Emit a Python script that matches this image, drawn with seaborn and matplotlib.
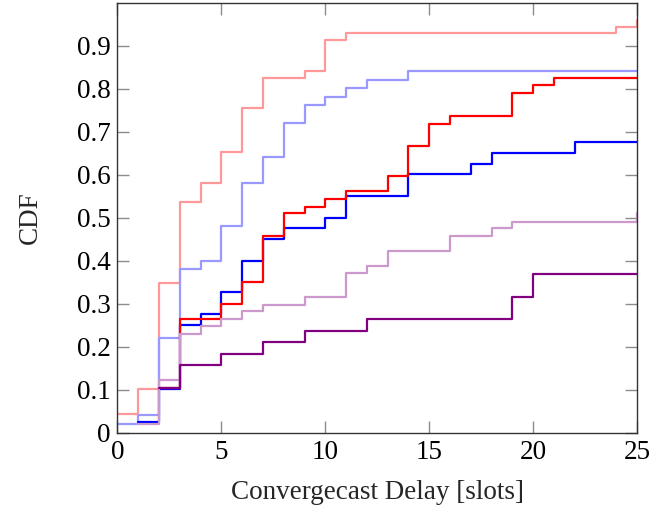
import numpy as np
import pandas as pd
import seaborn as sns
import matplotlib
matplotlib.use("Agg")
import matplotlib.pyplot as plt

# Empirical CDF values at each integer delay (slots); series start at different slots
x_pink = list(range(0, 26))
y_pink = [0.044, 0.101, 0.349, 0.537, 0.581, 0.653, 0.755, 0.826, 0.826, 0.842,
          0.913, 0.929, 0.929, 0.929, 0.929, 0.929, 0.929, 0.929, 0.929, 0.929,
          0.929, 0.929, 0.929, 0.929, 0.943, 0.960]

x_lightblue = list(range(0, 26))
y_lightblue = [0.020, 0.040, 0.220, 0.380, 0.400, 0.481, 0.581, 0.642, 0.721, 0.761,
               0.781, 0.801, 0.821, 0.821, 0.841, 0.841, 0.841, 0.841, 0.841, 0.841,
               0.841, 0.841, 0.841, 0.841, 0.841, 0.841]

x_blue = list(range(1, 26))
y_blue = [0.025, 0.101, 0.250, 0.275, 0.326, 0.400, 0.450, 0.475, 0.475,
          0.500, 0.550, 0.550, 0.550, 0.602, 0.602, 0.602, 0.626, 0.651, 0.651,
          0.651, 0.651, 0.676, 0.676, 0.676, 0.676]

x_red = list(range(2, 26))
y_red = [0.103, 0.264, 0.264, 0.300, 0.351, 0.457, 0.510, 0.526,
         0.543, 0.561, 0.561, 0.597, 0.667, 0.719, 0.737, 0.737, 0.737, 0.789,
         0.809, 0.826, 0.826, 0.826, 0.826, 0.826]

x_plum = list(range(1, 26))
y_plum = [0.020, 0.123, 0.229, 0.247, 0.264, 0.282, 0.298, 0.298, 0.316,
          0.316, 0.371, 0.388, 0.422, 0.422, 0.422, 0.457, 0.457, 0.475, 0.491,
          0.491, 0.491, 0.491, 0.491, 0.491, 0.510]

x_purple = list(range(2, 26))
y_purple = [0.103, 0.157, 0.157, 0.183, 0.183, 0.211, 0.211, 0.237,
            0.237, 0.237, 0.264, 0.264, 0.264, 0.264, 0.264, 0.264, 0.264, 0.316,
            0.369, 0.369, 0.369, 0.369, 0.369, 0.369]

series = [
    ("pink", x_pink, y_pink, "#FF9999"),
    ("lightblue", x_lightblue, y_lightblue, "#9999FF"),
    ("blue", x_blue, y_blue, "#0000FF"),
    ("red", x_red, y_red, "#FF0000"),
    ("plum", x_plum, y_plum, "#CC99CC"),
    ("purple", x_purple, y_purple, "#800080"),
]

x_ticks = [0, 5, 10, 15, 20, 25]
y_ticks = [0, 0.1, 0.2, 0.3, 0.4, 0.5, 0.6, 0.7, 0.8, 0.9]
y_tick_labels = ["0", "0.1", "0.2", "0.3", "0.4", "0.5", "0.6", "0.7", "0.8", "0.9"]

sns.set_style("ticks")
plt.rcParams["font.family"] = ["Liberation Serif", "DejaVu Serif"]

fig = plt.figure(figsize=(6.61, 5.07), dpi=100)
ax = fig.add_axes([0.1775, 0.1466, 0.7866, 0.8481])

for name, xs, ys, col in series:
    df = pd.DataFrame({"delay": xs, "cdf": ys})
    sns.lineplot(data=df, x="delay", y="cdf", ax=ax, color=col, linewidth=1.6,
                 drawstyle="steps-post", estimator=None, sort=True)

ax.set_xlim(0, 25)
ax.set_ylim(0, 1.0)
ax.set_xticks(x_ticks)
ax.set_xticklabels([str(t) for t in x_ticks])
ax.set_yticks(y_ticks)
ax.set_yticklabels(y_tick_labels)

ax.tick_params(axis="both", direction="in", length=8.3, width=1.0, color="#8c8c8c",
               labelsize=19.5, labelcolor="black", top=True, right=True, pad=5)
for sp in ax.spines.values():
    sp.set_color("#333333")
    sp.set_linewidth(1.0)

ax.set_xlabel("Convergecast Delay [slots]", fontsize=19.5, labelpad=11)
ax.set_ylabel("CDF", fontsize=19.5, labelpad=24)

fig.savefig("out.png", dpi=100)
